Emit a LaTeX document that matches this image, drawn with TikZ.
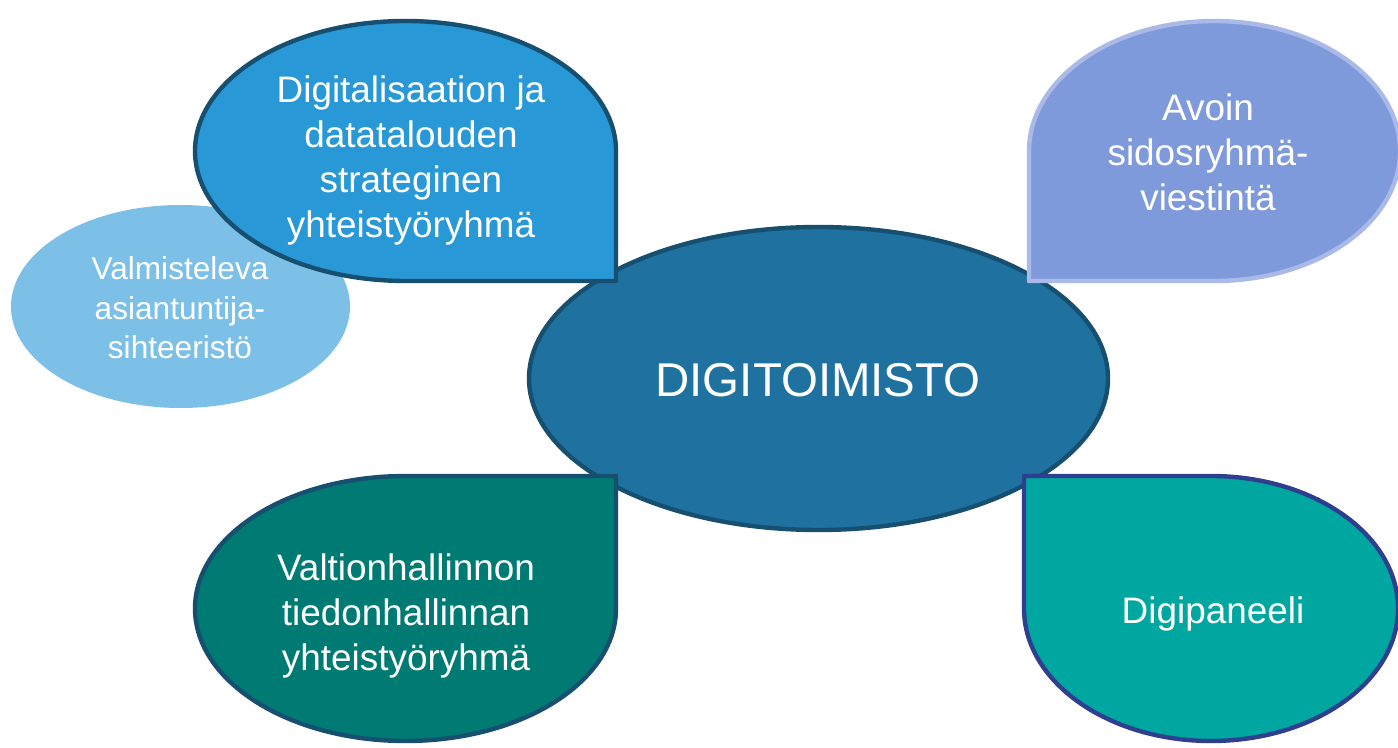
\documentclass[tikz,border=0pt]{standalone}
\usepackage{fontspec}
\setmainfont{Liberation Sans}
\usetikzlibrary{positioning}

\definecolor{lightblue}{HTML}{7CC0E7}
\definecolor{midblue}{HTML}{2898D6}
\definecolor{deepblue}{HTML}{1F72A0}
\definecolor{navyline}{HTML}{164F6F}
\definecolor{lavender}{HTML}{7F9ADB}
\definecolor{lavenderline}{HTML}{AABAE8}
\definecolor{darkteal}{HTML}{007B74}
\definecolor{teal}{HTML}{00A7A0}
\definecolor{indigoline}{HTML}{2E3F8F}

\tikzset{
    shapeline/.style={line width=2.5pt, line join=round},
    txt/.style={text=white, align=center, inner sep=0pt, font=\fontsize{21pt}{25.6pt}\selectfont},
    smalltxt/.style={txt, font=\fontsize{18pt}{22.5pt}\selectfont}
}

\begin{document}
\begin{tikzpicture}[x=0.02cm, y=0.02cm]
    \useasboundingbox (0,0) rectangle (1398,747);

    % Draw side ellipse
    \fill[lightblue] (180.5,440.5) ellipse[x radius=169.5, y radius=101.5];

    % Draw centre ellipse
    \draw[shapeline, draw=navyline, fill=deepblue] (818.5,368.5) ellipse[x radius=289.5, y radius=151.5];

    % Draw teardrops
    \draw[shapeline, draw=navyline, fill=midblue] (616,466) -- (405.5,466)
        arc[start angle=270, end angle=90, x radius=210.5, y radius=130]
        arc[start angle=90, end angle=0, x radius=210.5, y radius=130] -- cycle;
    \draw[shapeline, draw=lavenderline, fill=lavender] (1029,466) -- (1214.5,466)
        arc[start angle=-90, end angle=180, x radius=185.5, y radius=130] -- cycle;
    \draw[shapeline, draw=navyline, fill=darkteal] (616,271) -- (405.5,271)
        arc[start angle=90, end angle=360, x radius=210.5, y radius=132.5] -- cycle;
    \draw[shapeline, draw=indigoline, fill=teal] (1024,271) -- (1024,138.5)
        arc[start angle=180, end angle=450, x radius=187, y radius=132.5] -- cycle;

    % Draw texts
    \node[txt, font=\fontsize{27pt}{32pt}\selectfont] (toimisto) at (818,367) {DIGITOIMISTO};
    \node[smalltxt] (sihteeristo) at (180,439) {Valmisteleva\\asiantuntija-\\sihteeristö};
    \node[txt] (strateginen) at (411,587) {Digitalisaation ja\\datatalouden\\strateginen\\yhteistyöryhmä};
    \node[txt] (viestinta) at (1208,595) {Avoin\\sidosryhmä-\\viestintä};
    \node[txt] (tiedonhallinta) at (406,131) {Valtionhallinnon\\tiedonhallinnan\\yhteistyöryhmä};
    \node[txt] (digipaneeli) at (1213,133) {Digipaneeli};
\end{tikzpicture}
\end{document}
